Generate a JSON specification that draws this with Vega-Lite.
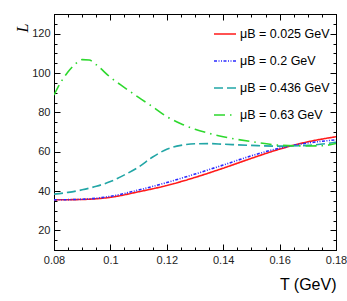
{
  "$schema": "https://vega.github.io/schema/vega-lite/v6.json",
  "width": 282,
  "height": 236,
  "autosize": {"type": "none"},
  "padding": {"left": 54, "top": 14, "right": 11, "bottom": 51},
  "background": "white",
  "config": {
    "view": {"stroke": "black", "strokeWidth": 1},
    "font": "Liberation Sans",
    "axis": {"grid": false, "domainColor": "black", "tickColor": "black", "labelColor": "#222", "labelFont": "Liberation Sans", "labelFontSize": 11, "titleFontWeight": "normal"}
  },
  "data": {
    "values": [
      {"mu": "μB = 0.025 GeV", "T": 0.08, "L": 35.5},
      {"mu": "μB = 0.025 GeV", "T": 0.09, "L": 35.7},
      {"mu": "μB = 0.025 GeV", "T": 0.10, "L": 36.8},
      {"mu": "μB = 0.025 GeV", "T": 0.11, "L": 39.6},
      {"mu": "μB = 0.025 GeV", "T": 0.12, "L": 42.8},
      {"mu": "μB = 0.025 GeV", "T": 0.13, "L": 46.9},
      {"mu": "μB = 0.025 GeV", "T": 0.14, "L": 51.6},
      {"mu": "μB = 0.025 GeV", "T": 0.15, "L": 56.6},
      {"mu": "μB = 0.025 GeV", "T": 0.16, "L": 61.3},
      {"mu": "μB = 0.025 GeV", "T": 0.17, "L": 65.0},
      {"mu": "μB = 0.025 GeV", "T": 0.18, "L": 67.6},
      {"mu": "μB = 0.2 GeV", "T": 0.08, "L": 35.5},
      {"mu": "μB = 0.2 GeV", "T": 0.09, "L": 35.8},
      {"mu": "μB = 0.2 GeV", "T": 0.10, "L": 37.3},
      {"mu": "μB = 0.2 GeV", "T": 0.11, "L": 40.5},
      {"mu": "μB = 0.2 GeV", "T": 0.12, "L": 44.3},
      {"mu": "μB = 0.2 GeV", "T": 0.13, "L": 48.6},
      {"mu": "μB = 0.2 GeV", "T": 0.14, "L": 53.2},
      {"mu": "μB = 0.2 GeV", "T": 0.15, "L": 57.9},
      {"mu": "μB = 0.2 GeV", "T": 0.16, "L": 61.8},
      {"mu": "μB = 0.2 GeV", "T": 0.17, "L": 64.4},
      {"mu": "μB = 0.2 GeV", "T": 0.18, "L": 66.0},
      {"mu": "μB = 0.436 GeV", "T": 0.08, "L": 38.4},
      {"mu": "μB = 0.436 GeV", "T": 0.085, "L": 39.3},
      {"mu": "μB = 0.436 GeV", "T": 0.09, "L": 40.6},
      {"mu": "μB = 0.436 GeV", "T": 0.095, "L": 42.4},
      {"mu": "μB = 0.436 GeV", "T": 0.10, "L": 44.8},
      {"mu": "μB = 0.436 GeV", "T": 0.105, "L": 48.2},
      {"mu": "μB = 0.436 GeV", "T": 0.11, "L": 52.2},
      {"mu": "μB = 0.436 GeV", "T": 0.115, "L": 57.3},
      {"mu": "μB = 0.436 GeV", "T": 0.12, "L": 61.2},
      {"mu": "μB = 0.436 GeV", "T": 0.125, "L": 63.2},
      {"mu": "μB = 0.436 GeV", "T": 0.13, "L": 64.0},
      {"mu": "μB = 0.436 GeV", "T": 0.135, "L": 64.1},
      {"mu": "μB = 0.436 GeV", "T": 0.14, "L": 63.8},
      {"mu": "μB = 0.436 GeV", "T": 0.15, "L": 63.2},
      {"mu": "μB = 0.436 GeV", "T": 0.16, "L": 62.8},
      {"mu": "μB = 0.436 GeV", "T": 0.17, "L": 63.2},
      {"mu": "μB = 0.436 GeV", "T": 0.18, "L": 64.8},
      {"mu": "μB = 0.63 GeV", "T": 0.08, "L": 88.8},
      {"mu": "μB = 0.63 GeV", "T": 0.0825, "L": 95.5},
      {"mu": "μB = 0.63 GeV", "T": 0.085, "L": 100.6},
      {"mu": "μB = 0.63 GeV", "T": 0.0875, "L": 104.5},
      {"mu": "μB = 0.63 GeV", "T": 0.09, "L": 106.8},
      {"mu": "μB = 0.63 GeV", "T": 0.0925, "L": 106.6},
      {"mu": "μB = 0.63 GeV", "T": 0.095, "L": 104.2},
      {"mu": "μB = 0.63 GeV", "T": 0.10, "L": 97.8},
      {"mu": "μB = 0.63 GeV", "T": 0.105, "L": 92.6},
      {"mu": "μB = 0.63 GeV", "T": 0.11, "L": 87.6},
      {"mu": "μB = 0.63 GeV", "T": 0.115, "L": 82.8},
      {"mu": "μB = 0.63 GeV", "T": 0.12, "L": 77.8},
      {"mu": "μB = 0.63 GeV", "T": 0.125, "L": 74.2},
      {"mu": "μB = 0.63 GeV", "T": 0.13, "L": 71.4},
      {"mu": "μB = 0.63 GeV", "T": 0.135, "L": 69.3},
      {"mu": "μB = 0.63 GeV", "T": 0.14, "L": 67.6},
      {"mu": "μB = 0.63 GeV", "T": 0.15, "L": 65.1},
      {"mu": "μB = 0.63 GeV", "T": 0.16, "L": 63.3},
      {"mu": "μB = 0.63 GeV", "T": 0.17, "L": 62.9},
      {"mu": "μB = 0.63 GeV", "T": 0.175, "L": 63.0},
      {"mu": "μB = 0.63 GeV", "T": 0.18, "L": 64.2}
    ]
  },
  "layer": [
    {
      "mark": {"type": "line", "interpolate": "monotone", "strokeWidth": 1.6, "clip": true},
      "encoding": {
        "x": {
          "field": "T", "type": "quantitative",
          "scale": {"domain": [0.08, 0.18], "nice": false, "zero": false},
          "axis": {
            "values": [0.08, 0.085, 0.09, 0.095, 0.1, 0.105, 0.11, 0.115, 0.12, 0.125, 0.13, 0.135, 0.14, 0.145, 0.15, 0.155, 0.16, 0.165, 0.17, 0.175, 0.18],
            "labelExpr": "abs(datum.value*50 - round(datum.value*50)) < 0.001 ? format(datum.value, '.2~f') : ''",
            "tickSize": {"condition": {"test": "abs(datum.value*50 - round(datum.value*50)) < 0.001", "value": -6}, "value": -3},
            "labelPadding": 10,
            "labelFlush": false,
            "labelOverlap": false,
            "title": "T (GeV)",
            "titleFont": "Liberation Sans",
            "titleFontSize": 16,
            "titleColor": "black",
            "titleAnchor": "end",
            "titleAlign": "right",
            "titleBaseline": "alphabetic",
            "titleX": 282,
            "titleY": 39
          }
        },
        "y": {
          "field": "L", "type": "quantitative",
          "scale": {"domain": [10, 130], "nice": false, "zero": false},
          "axis": {
            "values": [10, 15, 20, 25, 30, 35, 40, 45, 50, 55, 60, 65, 70, 75, 80, 85, 90, 95, 100, 105, 110, 115, 120, 125, 130],
            "labelExpr": "datum.value % 20 == 0 ? datum.label : ''",
            "tickSize": {"condition": {"test": "datum.value % 20 == 0", "value": -6}, "value": -3},
            "labelPadding": 10,
            "labelOverlap": false,
            "labelFlush": false,
            "title": "L",
            "titleFont": "Liberation Serif",
            "titleFontStyle": "italic",
            "titleFontSize": 16,
            "titleColor": "black",
            "titleAngle": -90,
            "titleAlign": "right",
            "titleBaseline": "alphabetic",
            "titleX": -27,
            "titleY": 9
          }
        },
        "color": {
          "field": "mu", "type": "nominal",
          "scale": {"domain": ["μB = 0.025 GeV", "μB = 0.2 GeV", "μB = 0.436 GeV", "μB = 0.63 GeV"], "range": ["#ff1a1a", "#2a2aff", "#22a6a6", "#2ed82e"]},
          "legend": {"orient": "none", "legendX": 159, "legendY": 8, "title": null, "symbolType": "stroke", "symbolSize": 484, "symbolStrokeWidth": 1.6, "labelFontSize": 12.5, "labelFont": "Liberation Sans", "labelColor": "black", "rowPadding": 8, "labelOffset": 3}
        },
        "strokeDash": {
          "field": "mu", "type": "nominal",
          "scale": {"domain": ["μB = 0.025 GeV", "μB = 0.2 GeV", "μB = 0.436 GeV", "μB = 0.63 GeV"], "range": [[1, 0], [3, 1.5, 1, 1.5, 1, 1.5], [9, 4], [11, 5, 1.5, 5]]},
          "legend": {"orient": "none", "legendX": 159, "legendY": 8, "title": null, "symbolType": "stroke", "symbolSize": 484, "symbolStrokeWidth": 1.6, "labelFontSize": 12.5, "labelFont": "Liberation Sans", "labelColor": "black", "rowPadding": 8, "labelOffset": 3}
        }
      }
    },
    {
      "mark": {"type": "line", "opacity": 0},
      "encoding": {
        "x": {
          "field": "T", "type": "quantitative",
          "axis": {
            "orient": "top",
            "values": [0.08, 0.085, 0.09, 0.095, 0.1, 0.105, 0.11, 0.115, 0.12, 0.125, 0.13, 0.135, 0.14, 0.145, 0.15, 0.155, 0.16, 0.165, 0.17, 0.175, 0.18],
            "labels": false,
            "title": null,
            "tickSize": {"condition": {"test": "abs(datum.value*50 - round(datum.value*50)) < 0.001", "value": -6}, "value": -3}
          }
        },
        "y": {
          "field": "L", "type": "quantitative",
          "axis": {
            "orient": "right",
            "values": [10, 15, 20, 25, 30, 35, 40, 45, 50, 55, 60, 65, 70, 75, 80, 85, 90, 95, 100, 105, 110, 115, 120, 125, 130],
            "labels": false,
            "title": null,
            "tickSize": {"condition": {"test": "datum.value % 20 == 0", "value": -6}, "value": -3}
          }
        },
        "detail": {"field": "mu", "type": "nominal"}
      }
    }
  ],
  "resolve": {"axis": {"x": "independent", "y": "independent"}}
}
